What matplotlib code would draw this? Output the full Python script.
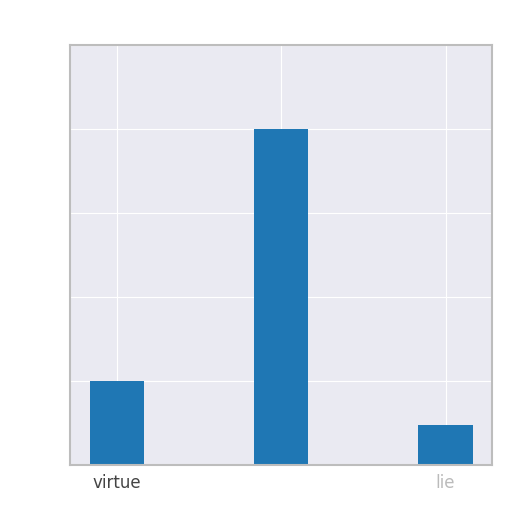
import matplotlib
matplotlib.use("Agg")
import matplotlib.pyplot as plt
import seaborn as sns

# data
categories = ["virtue", "", "lie"]
values = [1.0, 4.0, 0.48]

sns.set_style("darkgrid")
plt.rcParams['font.family'] = ['DejaVu Sans']

fig = plt.figure(figsize=(5.12, 5.12), dpi=100)
ax = fig.add_axes([0.137, 0.091, 0.823, 0.821])

pos = list(range(len(categories)))
ax.bar(pos, values, width=0.33, color="#1f77b4", linewidth=0)

ax.set_xticks(pos)
ax.set_xticklabels(categories, fontsize=12, color="#444444")
ax.get_xticklabels()[2].set_color("#bbbbbb")
ax.set_xlim(-0.286, 2.28)
ax.set_ylim(0, 5)
ax.set_yticks([0, 1, 2, 3, 4, 5])
ax.set_yticklabels([])
ax.tick_params(length=0, pad=6)

for s in ax.spines.values():
    s.set_visible(True)
    s.set_color("#bdbdbd")
    s.set_linewidth(1.5)

fig.savefig("out.png", dpi=100)
